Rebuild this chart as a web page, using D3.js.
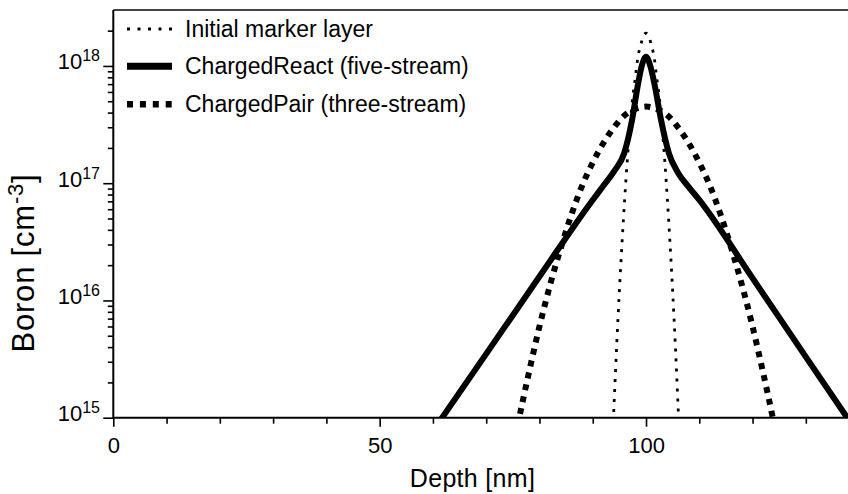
<!DOCTYPE html>
<html>
<head>
<meta charset="utf-8">
<script src="https://cdn.jsdelivr.net/npm/d3@7"></script>
<style>
  html, body { margin: 0; padding: 0; background: #fff; }
  svg { display: block; }
  text { font-family: "Liberation Sans", Arial, Helvetica, sans-serif; fill: #000; }
</style>
</head>
<body>
<svg id="chart" width="848" height="494"></svg>
<script>
// Boron depth profiles: initial marker layer and two diffusion models
const depthMarker = [93.7, 94, 94.5, 95, 95.5, 96, 96.5, 97, 97.5, 98, 98.5, 99, 99.5, 100,
                     100.5, 101, 101.5, 102, 102.5, 103, 103.5, 104, 104.5, 105, 105.5, 106, 106.3];
const boronMarker = [6.2e14, 1.3e15, 4.2e15, 1.2e16, 3.1e16, 7.4e16, 1.6e17, 3.1e17, 5.4e17, 8.0e17, 1.21e18, 1.5e18, 1.81e18, 1.9e18,
                     1.81e18, 1.5e18, 1.21e18, 8.0e17, 5.4e17, 3.1e17, 1.6e17, 7.4e16, 3.1e16, 1.2e16, 4.2e15, 1.3e15, 6.2e14];

const depthReact = [60, 70, 80, 90, 92, 94, 95.9, 97.4, 98.4, 99.2, 100, 100.8, 101.7, 102.8, 104.3, 106, 108, 110, 120, 130, 140];
const boronReact = [7.7e14, 3.5e15, 1.6e16, 7.2e16, 9.5e16, 1.26e17, 1.8e17, 3.5e17, 6.6e17, 1.0e18, 1.2e18, 1.0e18, 6.6e17, 3.5e17, 1.8e17, 1.23e17, 9.3e16, 7.2e16, 1.55e16, 3.3e15, 7.1e14];

const depthPair = [75, 76, 78, 80, 82, 84, 86, 88, 90, 92, 94, 96, 98, 100,
                   102, 104, 106, 108, 110, 112, 114, 116, 118, 120, 122, 124, 125];
const boronPair = [5.3e14, 9e14, 2.4e15, 6.0e15, 1.36e16, 2.8e16, 5.4e16, 9.5e16, 1.5e17, 2.2e17, 3.0e17, 3.8e17, 4.3e17, 4.5e17,
                   4.3e17, 3.8e17, 3.0e17, 2.2e17, 1.5e17, 9.5e16, 5.4e16, 2.8e16, 1.36e16, 6.0e15, 2.4e15, 9e14, 5.3e14];

const seriesNames = ["Initial marker layer", "ChargedReact (five-stream)", "ChargedPair (three-stream)"];

const xMajorTicks = [0, 50, 100];
const xTickLabels = ["0", "50", "100"];
const xMinorTicks = [10, 20, 30, 40, 60, 70, 80, 90, 110, 120, 130, 140];
const yDecadeExponents = [15, 16, 17, 18];

const xTitle = "Depth [nm]";
const yTitle = "Boron [cm";
const yTitleSup = "-3";

// ---- layout ----
const W = 848, H = 494;
const plot = { left: 113.3, top: 10, right: 848, bottom: 417.7 };

const x = d3.scaleLinear().domain([0, 140]).range([plot.left, 859.1]);
const y = d3.scaleLog().domain([1e15, 3e18]).range([plot.bottom, plot.top]);

const svg = d3.select("#chart");

svg.append("defs").append("clipPath").attr("id", "plot-clip")
  .append("rect")
  .attr("x", plot.left).attr("y", plot.top)
  .attr("width", plot.right - plot.left).attr("height", plot.bottom - plot.top);

// ---- series styles ----
const styles = [
  { width: 2.8, dash: "3,7", legendWidth: 3, legendDash: "3,7.5" },
  { width: 6, dash: null, legendWidth: 7, legendDash: null },
  { width: 6, dash: "6,6.2", legendWidth: 6.5, legendDash: "6,6.9" }
];

const series = [
  { depth: depthMarker, boron: boronMarker },
  { depth: depthReact, boron: boronReact },
  { depth: depthPair, boron: boronPair }
];

const line = d3.line()
  .x(d => x(d[0]))
  .y(d => y(d[1]))
  .curve(d3.curveMonotoneX);

const curves = svg.append("g").attr("clip-path", "url(#plot-clip)");
series.forEach((s, i) => {
  const pts = s.depth.map((d, j) => [d, s.boron[j]]);
  curves.append("path")
    .datum(pts)
    .attr("d", line)
    .attr("fill", "none")
    .attr("stroke", "#000")
    .attr("stroke-width", styles[i].width)
    .attr("stroke-dasharray", styles[i].dash)
    .attr("stroke-linecap", "butt")
    .attr("stroke-linejoin", "round");
});

// ---- frame ----
svg.append("line")
  .attr("x1", plot.left).attr("x2", plot.right)
  .attr("y1", plot.top).attr("y2", plot.top)
  .attr("stroke", "#444").attr("stroke-width", 2);

// ---- x axis ----
const gxMinor = svg.append("g").attr("transform", `translate(0,${plot.bottom})`)
  .call(d3.axisBottom(x).tickValues(xMinorTicks).tickSize(6).tickSizeOuter(0).tickFormat(""));
const gxMajor = svg.append("g").attr("transform", `translate(0,${plot.bottom})`)
  .call(d3.axisBottom(x).tickValues(xMajorTicks).tickSize(9).tickSizeOuter(0)
        .tickFormat((d, i) => xTickLabels[i]));
[gxMinor, gxMajor].forEach(g => {
  g.select(".domain").remove();
  g.selectAll(".tick line").attr("stroke", "#000").attr("stroke-width", 1.6);
});
gxMajor.selectAll(".tick text")
  .attr("y", 35.3).attr("dy", 0)
  .style("font-size", "22px")
  .attr("fill", "#000");

// ---- y axis ----
const yMinorTicks = [];
yDecadeExponents.forEach(e => {
  for (let m = 2; m <= 9; m++) {
    const v = m * Math.pow(10, e);
    if (v < 3e18) yMinorTicks.push(v);
  }
});
const yMajorTicks = yDecadeExponents.map(e => Math.pow(10, e));

const gyMinor = svg.append("g").attr("transform", `translate(${plot.left},0)`)
  .call(d3.axisLeft(y).tickValues(yMinorTicks).tickSize(5.5).tickSizeOuter(0).tickFormat(""));
const gyMajor = svg.append("g").attr("transform", `translate(${plot.left},0)`)
  .call(d3.axisLeft(y).tickValues(yMajorTicks).tickSize(10).tickSizeOuter(0).tickFormat(""));
[gyMinor, gyMajor].forEach(g => {
  g.select(".domain").remove();
  g.selectAll(".tick line").attr("stroke", "#000").attr("stroke-width", 1.6);
});
gyMajor.selectAll(".tick").each(function (d, i) {
  const t = d3.select(this).select("text")
    .attr("x", -13.3).attr("y", 2.8).attr("dy", 0)
    .attr("text-anchor", "end")
    .attr("fill", "#000");
  t.append("tspan").style("font-size", "22px").text("10");
  t.append("tspan").style("font-size", "16px").attr("dy", -8).text(String(yDecadeExponents[i]));
});

// axis lines
svg.append("line")
  .attr("x1", plot.left).attr("x2", plot.right)
  .attr("y1", plot.bottom).attr("y2", plot.bottom)
  .attr("stroke", "#000").attr("stroke-width", 2);
svg.append("line")
  .attr("x1", plot.left).attr("x2", plot.left)
  .attr("y1", plot.top).attr("y2", plot.bottom + 1)
  .attr("stroke", "#000").attr("stroke-width", 2);

// ---- axis titles ----
svg.append("text")
  .attr("x", 472.5).attr("y", 487)
  .attr("text-anchor", "middle")
  .style("font-size", "25px")
  .style("letter-spacing", "0.3px")
  .text(xTitle);

const yt = svg.append("text")
  .attr("transform", "translate(34,263) rotate(-90)")
  .attr("text-anchor", "middle")
  .style("font-size", "31px")
  .style("letter-spacing", "0.8px");
yt.append("tspan").text(yTitle);
yt.append("tspan").style("font-size", "22px").attr("dy", -11).text(yTitleSup);
yt.append("tspan").attr("dy", 11).text("]");

// ---- legend ----
const legendRows = [29, 66.3, 104.3];
const legend = svg.append("g");
seriesNames.forEach((name, i) => {
  legend.append("line")
    .attr("x1", 127).attr("x2", 172)
    .attr("y1", legendRows[i]).attr("y2", legendRows[i])
    .attr("stroke", "#000")
    .attr("stroke-width", styles[i].legendWidth)
    .attr("stroke-dasharray", styles[i].legendDash);
  legend.append("text")
    .attr("x", 185).attr("y", legendRows[i] + 8)
    .style("font-size", "23px")
    .text(name);
});
</script>
</body>
</html>
